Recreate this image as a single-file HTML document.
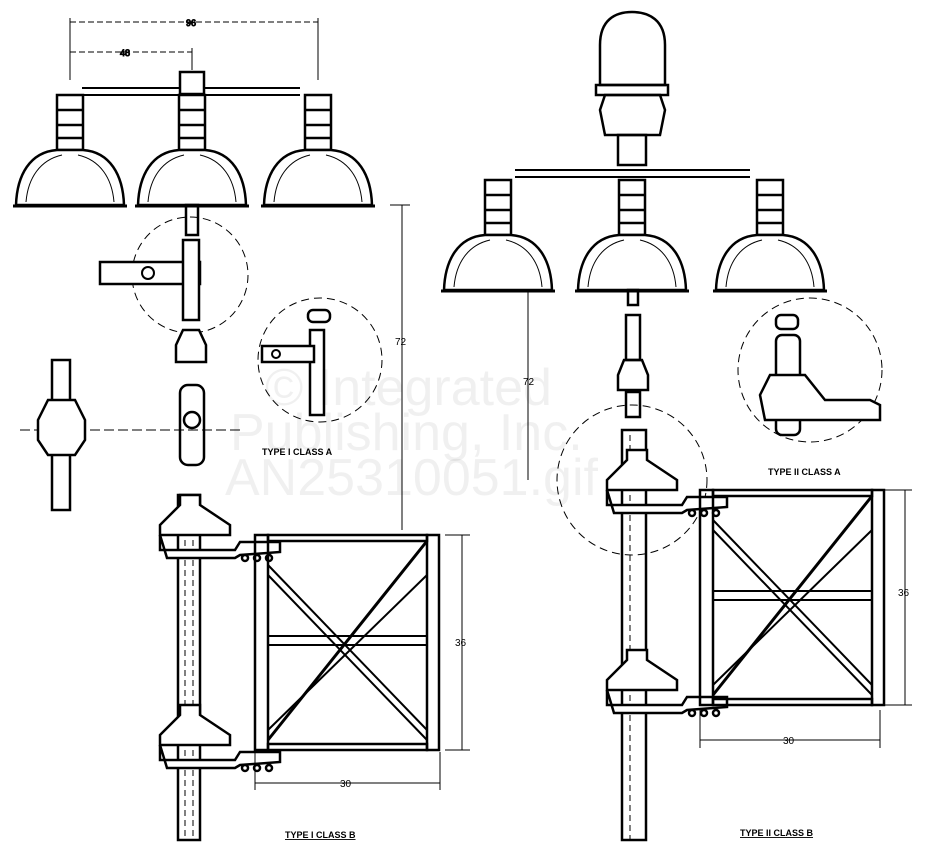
<!DOCTYPE html>
<html><head><style>
html,body{margin:0;padding:0;background:#fff}
svg{display:block}
text{font-family:"Liberation Sans",sans-serif}
</style></head><body>
<svg width="928" height="868" viewBox="0 0 928 868" xmlns="http://www.w3.org/2000/svg">
<defs>
<g id="shade" fill="none" stroke="#000" stroke-width="2.5">
  <rect x="-13" y="-65" width="26" height="55" fill="#fff"/>
  <line x1="-13" y1="-50" x2="13" y2="-50"/>
  <line x1="-13" y1="-35" x2="13" y2="-35"/>
  <line x1="-13" y1="-22" x2="13" y2="-22"/>
  <path d="M-13,-10 C-40,-8 -53,15 -54,45 L54,45 C53,15 40,-8 13,-10 Z" fill="#fff"/>
  <path d="M-8,-5 C-30,0 -42,18 -44,42" stroke-width="1"/>
  <path d="M8,-5 C30,0 42,18 44,42" stroke-width="1"/>
  <line x1="-57" y1="46" x2="57" y2="46" stroke-width="3"/>
</g>
<g id="frame" fill="none" stroke="#000">
  <rect x="0" y="0" width="13" height="215" stroke-width="2.5"/>
  <rect x="172" y="0" width="12" height="215" stroke-width="2.5"/>
  <rect x="13" y="0" width="159" height="6" stroke-width="2.5"/>
  <rect x="13" y="209" width="159" height="6" stroke-width="2.5"/>
  <rect x="13" y="101" width="159" height="9" stroke-width="2"/>
  <line x1="13" y1="30" x2="172" y2="195" stroke-width="2"/>
  <line x1="13" y1="40" x2="172" y2="205" stroke-width="2"/>
  <line x1="172" y1="6" x2="13" y2="205" stroke-width="3"/>
  <line x1="172" y1="40" x2="13" y2="195" stroke-width="2"/>
</g>
<g id="bracket" fill="#fff" stroke="#000" stroke-width="2.5">
  <path d="M-5,-35 L15,-35 L15,-25 L45,-5 L45,5 L-25,5 L-25,-5 L-5,-25 Z"/>
  <path d="M-25,5 L-25,20 L50,20 L55,12 L95,12 L95,22 L55,25 L50,28 L-18,28 Z"/>
  <circle cx="60" cy="28" r="3"/><circle cx="72" cy="28" r="3"/><circle cx="84" cy="28" r="3"/>
</g>
</defs>

<g fill="none" stroke="#000">
<line x1="70" y1="22" x2="318" y2="22" stroke-width="1" stroke-dasharray="6,3"/>
<text x="186" y="26" font-size="9">96</text>
<line x1="70" y1="52" x2="192" y2="52" stroke-width="1" stroke-dasharray="6,3"/>
<text x="120" y="56" font-size="9">48</text>
<line x1="70" y1="18" x2="70" y2="80" stroke-width="1"/>
<line x1="318" y1="18" x2="318" y2="80" stroke-width="1"/>
<line x1="192" y1="48" x2="192" y2="70" stroke-width="1"/>
<line x1="82" y1="88" x2="300" y2="88" stroke-width="2"/>
<line x1="82" y1="95" x2="300" y2="95" stroke-width="2"/>
<rect x="180" y="72" width="24" height="22" stroke-width="2.5" fill="#fff"/>
<use href="#shade" x="70" y="160"/>
<use href="#shade" x="192" y="160"/>
<use href="#shade" x="318" y="160"/>
<rect x="186" y="205" width="12" height="30" stroke-width="2.5"/>
<circle cx="190" cy="275" r="58" stroke-width="1" stroke-dasharray="8,5"/>
<rect x="100" y="262" width="100" height="22" stroke-width="2.5" fill="#fff"/>
<circle cx="148" cy="273" r="6" stroke-width="2"/>
<rect x="183" y="240" width="16" height="80" stroke-width="2.5" fill="#fff"/>
<path d="M183,330 L199,330 L206,345 L206,362 L176,362 L176,345 Z" stroke-width="2.5" fill="#fff"/>
<rect x="180" y="385" width="24" height="80" rx="8" stroke-width="2.5" fill="#fff"/>
<circle cx="192" cy="420" r="8" stroke-width="2.5"/>
<line x1="20" y1="430" x2="240" y2="430" stroke-width="1" stroke-dasharray="10,4"/>
<rect x="52" y="360" width="18" height="150" stroke-width="2.5"/>
<path d="M48,400 L75,400 L85,420 L85,440 L75,455 L48,455 L38,440 L38,420 Z" stroke-width="2.5" fill="#fff"/>
<circle cx="320" cy="360" r="62" stroke-width="1" stroke-dasharray="8,5"/>
<rect x="308" y="310" width="22" height="12" rx="5" stroke-width="2.5"/>
<rect x="310" y="330" width="14" height="85" stroke-width="2.5"/>
<rect x="262" y="346" width="52" height="16" stroke-width="2.5" fill="#fff"/>
<circle cx="276" cy="354" r="4" stroke-width="2"/>
<text x="262" y="455" font-size="9" font-weight="bold" stroke="none" fill="#000">TYPE I CLASS A</text>
<rect x="178" y="495" width="22" height="345" stroke-width="2.5"/>
<line x1="185" y1="500" x2="185" y2="840" stroke-width="1" stroke-dasharray="6,4"/>
<line x1="193" y1="500" x2="193" y2="840" stroke-width="1" stroke-dasharray="6,4"/>
<use href="#bracket" x="185" y="530"/>
<use href="#bracket" x="185" y="740"/>
<use href="#frame" x="255" y="535"/>
<line x1="402" y1="205" x2="402" y2="530" stroke-width="1"/>
<line x1="390" y1="205" x2="410" y2="205" stroke-width="1"/>
<text x="395" y="345" font-size="10" stroke="none" fill="#000">72</text>
<line x1="462" y1="535" x2="462" y2="750" stroke-width="1"/>
<line x1="445" y1="535" x2="470" y2="535" stroke-width="1"/>
<line x1="445" y1="750" x2="470" y2="750" stroke-width="1"/>
<text x="455" y="646" font-size="10" stroke="none" fill="#000">36</text>
<line x1="255" y1="783" x2="440" y2="783" stroke-width="1"/>
<line x1="255" y1="752" x2="255" y2="790" stroke-width="1"/>
<line x1="440" y1="752" x2="440" y2="790" stroke-width="1"/>
<text x="340" y="787" font-size="10" stroke="none" fill="#000">30</text>
<text x="285" y="838" font-size="9" font-weight="bold" stroke="none" fill="#000" text-decoration="underline">TYPE I CLASS B</text>

<path d="M600,85 L600,45 C600,20 615,12 632,12 C649,12 665,20 665,45 L665,85 Z" stroke-width="2.5"/>
<rect x="596" y="85" width="72" height="10" stroke-width="2.5"/>
<path d="M605,95 L660,95 L665,110 L660,135 L605,135 L600,110 Z" stroke-width="2.5"/>
<rect x="618" y="135" width="28" height="30" stroke-width="2.5"/>
<line x1="515" y1="170" x2="750" y2="170" stroke-width="2"/>
<line x1="515" y1="177" x2="750" y2="177" stroke-width="2"/>
<use href="#shade" x="498" y="245"/>
<use href="#shade" x="632" y="245"/>
<use href="#shade" x="770" y="245"/>
<rect x="628" y="290" width="10" height="15" stroke-width="2.5"/>
<rect x="626" y="315" width="14" height="45" stroke-width="2.5"/>
<path d="M624,360 L642,360 L648,375 L648,390 L618,390 L618,375 Z" stroke-width="2.5"/>
<rect x="626" y="392" width="14" height="25" stroke-width="2.5"/>
<circle cx="632" cy="480" r="75" stroke-width="1" stroke-dasharray="8,5"/>
<rect x="622" y="430" width="24" height="410" stroke-width="2.5"/>
<line x1="630" y1="435" x2="630" y2="840" stroke-width="1" stroke-dasharray="6,4"/>
<use href="#bracket" x="632" y="485"/>
<use href="#bracket" x="632" y="685"/>
<use href="#frame" x="700" y="490"/>
<circle cx="810" cy="370" r="72" stroke-width="1" stroke-dasharray="8,5"/>
<rect x="776" y="315" width="22" height="14" rx="5" stroke-width="2.5"/>
<rect x="776" y="335" width="24" height="100" rx="6" stroke-width="2.5"/>
<path d="M770,375 L805,375 L825,400 L870,400 L880,405 L880,420 L765,420 L760,395 Z" stroke-width="2.5" fill="#fff"/>
<text x="768" y="475" font-size="9" font-weight="bold" stroke="none" fill="#000">TYPE II CLASS A</text>
<line x1="528" y1="290" x2="528" y2="480" stroke-width="1"/>
<text x="523" y="385" font-size="10" stroke="none" fill="#000">72</text>
<line x1="905" y1="490" x2="905" y2="705" stroke-width="1"/>
<line x1="885" y1="490" x2="912" y2="490" stroke-width="1"/>
<line x1="885" y1="705" x2="912" y2="705" stroke-width="1"/>
<text x="898" y="596" font-size="10" stroke="none" fill="#000">36</text>
<line x1="700" y1="740" x2="880" y2="740" stroke-width="1"/>
<line x1="700" y1="710" x2="700" y2="748" stroke-width="1"/>
<line x1="880" y1="710" x2="880" y2="748" stroke-width="1"/>
<text x="783" y="744" font-size="10" stroke="none" fill="#000">30</text>
<text x="740" y="836" font-size="9" font-weight="bold" stroke="none" fill="#000" text-decoration="underline">TYPE II CLASS B</text>
</g>
<g fill="#000" fill-opacity="0.06" font-size="52">
<text x="265" y="405">© Integrated</text>
<text x="230" y="450">Publishing, Inc.</text>
<text x="225" y="495">AN25310051.gif</text>
</g>
</svg>
</body></html>
